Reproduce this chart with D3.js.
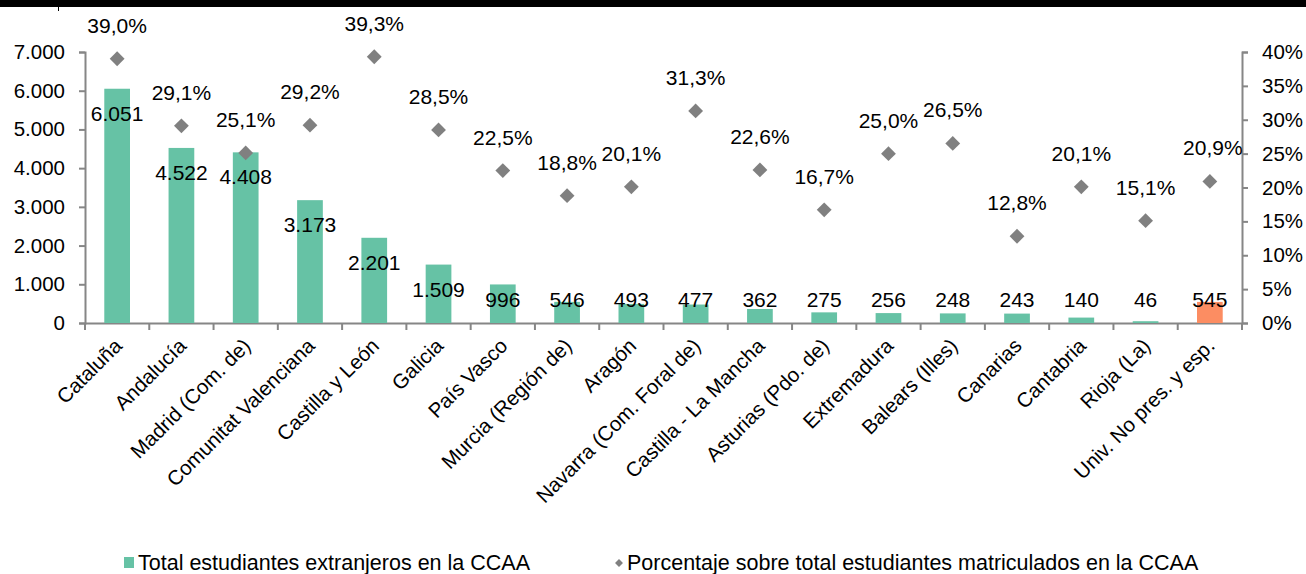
<!DOCTYPE html>
<html>
<head>
<meta charset="utf-8">
<script src="https://cdn.jsdelivr.net/npm/d3@7"></script>
<style>
  body { margin: 0; background: #fff; }
  svg { font-family: "Liberation Sans", Arial, sans-serif; }
</style>
</head>
<body>
<div id="chart"></div>
<script>
// data
const categories = ["Cataluña", "Andalucía", "Madrid (Com. de)", "Comunitat Valenciana", "Castilla y León",
  "Galicia", "País Vasco", "Murcia (Región de)", "Aragón", "Navarra (Com. Foral de)", "Castilla - La Mancha",
  "Asturias (Pdo. de)", "Extremadura", "Balears (Illes)", "Canarias", "Cantabria", "Rioja (La)", "Univ. No pres. y esp."];
const students = [6051, 4522, 4408, 3173, 2201, 1509, 996, 546, 493, 477, 362, 275, 256, 248, 243, 140, 46, 545];
const percents = [39.0, 29.1, 25.1, 29.2, 39.3, 28.5, 22.5, 18.8, 20.1, 31.3, 22.6, 16.7, 25.0, 26.5, 12.8, 20.1, 15.1, 20.9];
const leftTicks = [0, 1000, 2000, 3000, 4000, 5000, 6000, 7000];
const rightTicks = [0, 5, 10, 15, 20, 25, 30, 35, 40];
const legendLabels = ["Total estudiantes extranjeros en la CCAA", "Porcentaje sobre total estudiantes matriculados en la CCAA"];

const width = 1306, height = 574;
const margin = {left: 85, right: 64, top: 52, bottom: 251};
const green = "#66c2a5", orange = "#fc8d62", gray = "#808080", axisColor = "#868686";

const svg = d3.select("#chart").append("svg")
    .attr("width", width)
    .attr("height", height);

// black band at the top of the picture
svg.append("rect").attr("x", 0).attr("y", 0).attr("width", width).attr("height", 7).attr("fill", "#000");
svg.append("line").attr("x1", 58.5).attr("x2", 58.5).attr("y1", 7).attr("y2", 11)
    .attr("stroke", "#000").attr("stroke-width", 1);

const x = d3.scaleBand()
    .domain(categories)
    .range([margin.left, width - margin.right])
    .paddingInner(0.6)
    .paddingOuter(0.3);

const y = d3.scaleLinear().domain([0, 7000]).range([height - margin.bottom, margin.top]);
const y2 = d3.scaleLinear().domain([0, 40]).range([height - margin.bottom, margin.top]);

const esLocale = d3.formatLocale({decimal: ",", thousands: ".", grouping: [3], currency: ["", "€"]});
const fmtN = esLocale.format(",d");

// left axis
const leftAxis = svg.append("g")
    .attr("transform", `translate(${margin.left},0)`)
    .call(d3.axisLeft(y).tickValues(leftTicks).tickFormat(fmtN).tickSize(6).tickPadding(14));

// right axis
const rightAxis = svg.append("g")
    .attr("transform", `translate(${width - margin.right},0)`)
    .call(d3.axisRight(y2).tickValues(rightTicks).tickFormat(d => d + "%").tickSize(6).tickPadding(14));

// bottom axis (ticks at category boundaries)
const step = x.step();
const boundaries = d3.range(categories.length + 1).map(i => margin.left + i * step);
const bottom = svg.append("g");
bottom.append("line")
    .attr("x1", margin.left).attr("x2", width - margin.right)
    .attr("y1", y(0) + 0.5).attr("y2", y(0) + 0.5)
    .attr("stroke", axisColor).attr("stroke-width", 2);
bottom.selectAll("line.tick").data(boundaries).enter().append("line")
    .attr("class", "tick")
    .attr("x1", d => d).attr("x2", d => d)
    .attr("y1", y(0)).attr("y2", y(0) + 7)
    .attr("stroke", axisColor).attr("stroke-width", 2);

[leftAxis, rightAxis].forEach(g => {
  g.select(".domain").attr("stroke", axisColor).attr("stroke-width", 2);
  g.selectAll(".tick line").attr("stroke", axisColor).attr("stroke-width", 2);
  g.selectAll(".tick text").attr("fill", "#000").style("font-size", "20.5px")
      .style("font-family", "Liberation Sans, Arial, sans-serif");
});

// bars
svg.selectAll("rect.bar").data(students).enter().append("rect")
    .attr("class", "bar")
    .attr("x", (d, i) => x(categories[i]))
    .attr("width", x.bandwidth())
    .attr("y", d => y(d))
    .attr("height", d => y(0) - y(d))
    .attr("fill", (d, i) => i === categories.length - 1 ? orange : green);

// bar labels
svg.selectAll("text.barlab").data(students).enter().append("text")
    .attr("class", "barlab")
    .attr("x", (d, i) => x(categories[i]) + x.bandwidth() / 2)
    .attr("y", d => Math.min(y(d) + 32, 307))
    .attr("text-anchor", "middle")
    .style("font-size", "21px")
    .text(d => fmtN(d));

// diamonds
const diamond = d3.symbol().type(d3.symbolDiamond2).size(140);
svg.selectAll("path.pt").data(percents).enter().append("path")
    .attr("class", "pt")
    .attr("d", diamond)
    .attr("transform", (d, i) => `translate(${x(categories[i]) + x.bandwidth() / 2},${y2(d)})`)
    .attr("fill", gray);

svg.selectAll("text.ptlab").data(percents).enter().append("text")
    .attr("class", "ptlab")
    .attr("x", (d, i) => x(categories[i]) + x.bandwidth() / 2 + (i === categories.length - 1 ? 3 : 0))
    .attr("y", d => y2(d) - 26)
    .attr("text-anchor", "middle")
    .style("font-size", "21px")
    .text(d => d.toFixed(1).replace(".", ",") + "%");

// category labels
svg.selectAll("text.cat").data(categories).enter().append("text")
    .attr("class", "cat")
    .attr("transform", d => `translate(${x(d) + x.bandwidth() / 2 + 1},${y(0) + 19}) rotate(-45)`)
    .attr("text-anchor", "end")
    .attr("dy", "0.35em")
    .style("font-size", "20.5px")
    .text(d => d);

// legend
const legend = svg.append("g");
legend.append("rect").attr("x", 124).attr("y", 557).attr("width", 10).attr("height", 11).attr("fill", green);
legend.append("text").attr("x", 138).attr("y", 570).style("font-size", "21.5px").text(legendLabels[0]);
legend.append("path").attr("d", d3.symbol().type(d3.symbolDiamond2).size(40))
    .attr("transform", "translate(619,563)").attr("fill", gray);
legend.append("text").attr("x", 627).attr("y", 570).style("font-size", "21.5px").text(legendLabels[1]);
</script>
</body>
</html>
